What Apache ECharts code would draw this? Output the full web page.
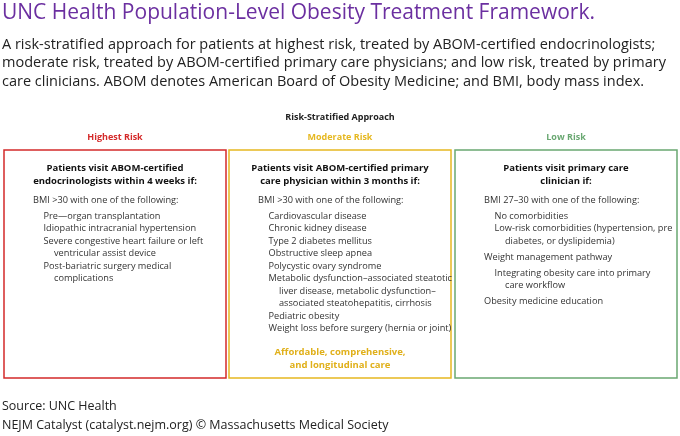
<!DOCTYPE html>
<html lang="en" style="height: 100%">
<head>
  <meta charset="utf-8">
</head>
<body style="height: 100%; margin: 0; background: #fff">
  <div id="container" style="height: 100%"></div>
  <script type="text/javascript" src="https://fastly.jsdelivr.net/npm/echarts@6.0.0/dist/echarts.min.js"></script>
  <script type="text/javascript">
var dom = document.getElementById('container');
var myChart = echarts.init(dom, null, { renderer: 'canvas' });

var titleText = 'UNC Health Population-Level Obesity Treatment Framework.';
var subtitleLines = [
  'A risk-stratified approach for patients at highest risk, treated by ABOM-certified endocrinologists;',
  'moderate risk, treated by ABOM-certified primary care physicians; and low risk, treated by primary',
  'care clinicians. ABOM denotes American Board of Obesity Medicine; and BMI, body mass index.'
];
var sourceLines = ['Source: UNC Health', 'NEJM Catalyst (catalyst.nejm.org) \u00a9 Massachusetts Medical Society'];
var approachLabel = 'Risk-Stratified Approach';

var riskNames = ['Highest Risk', 'Moderate Risk', 'Low Risk'];
var riskColors = ['#d42a2a', '#e6b820', '#6aa872'];
var headers = [
  ['Patients visit ABOM-certified', 'endocrinologists within 4 weeks if:'],
  ['Patients visit ABOM-certified primary', 'care physician within 3 months if:'],
  ['Patients visit primary care', 'clinician if:']
];
// [indent level, text]
var items1 = [
  [0, 'BMI >30 with one of the following:'],
  [1, 'Pre\u2014organ transplantation'],
  [1, 'Idiopathic intracranial hypertension'],
  [1, 'Severe congestive heart failure or left'],
  [2, 'ventricular assist device'],
  [1, 'Post-bariatric surgery medical'],
  [2, 'complications']
];
var items2 = [
  [0, 'BMI >30 with one of the following:'],
  [1, 'Cardiovascular disease'],
  [1, 'Chronic kidney disease'],
  [1, 'Type 2 diabetes mellitus'],
  [1, 'Obstructive sleep apnea'],
  [1, 'Polycystic ovary syndrome'],
  [1, 'Metabolic dysfunction\u2013associated steatotic'],
  [2, 'liver disease, metabolic dysfunction\u2013'],
  [2, 'associated steatohepatitis, cirrhosis'],
  [1, 'Pediatric obesity'],
  [1, 'Weight loss before surgery (hernia or joint)']
];
var items3 = [
  [0, 'BMI 27\u201330 with one of the following:'],
  [1, 'No comorbidities'],
  [1, 'Low-risk comorbidities (hypertension, pre'],
  [2, 'diabetes, or dyslipidemia)'],
  [0, 'Weight management pathway'],
  [1, 'Integrating obesity care into primary'],
  [2, 'care workflow'],
  [0, 'Obesity medicine education']
];
var footerMid = ['Affordable, comprehensive,', 'and longitudinal care'];

var FONT = '"Open Sans", "Noto Sans", sans-serif';
var boxX = [4, 229, 455];
var boxW = 222;
var g = [];

g.push({ type: 'text', left: 2, top: 3, style: { text: titleText, fill: '#6b2fa0', font: '21px ' + FONT } });
subtitleLines.forEach(function (s, i) {
  g.push({ type: 'text', left: 2, top: 37 + i * 18.5, style: { text: s, fill: '#222', font: '14.5px ' + FONT } });
});
sourceLines.forEach(function (s, i) {
  g.push({ type: 'text', left: 2, top: 400 + i * 19, style: { text: s, fill: '#222', font: '12.5px ' + FONT } });
});
g.push({ type: 'text', x: 340, y: 117, style: { text: approachLabel, fill: '#222', font: 'bold 9px ' + FONT, align: 'center', verticalAlign: 'middle' } });

[items1, items2, items3].forEach(function (items, b) {
  var x0 = boxX[b];
  var cx = x0 + boxW / 2;
  g.push({ type: 'text', x: cx, y: 137, style: { text: riskNames[b], fill: riskColors[b], font: 'bold 9px ' + FONT, align: 'center', verticalAlign: 'middle' } });
  g.push({ type: 'rect', shape: { x: x0, y: 150, width: boxW, height: 228 }, style: { fill: '#fff', stroke: riskColors[b], lineWidth: 1.5 } });
  headers[b].forEach(function (h, i) {
    g.push({ type: 'text', x: cx, y: 168 + i * 13, style: { text: h, fill: '#111', font: 'bold 9.5px ' + FONT, align: 'center', verticalAlign: 'middle' } });
  });
  var y = 200;
  items.forEach(function (it, i) {
    if (i > 0) y += (it[0] === 0 || items[i - 1][0] === 0) ? 16 : 12.5;
    g.push({ type: 'text', x: x0 + 29 + it[0] * 10.5, y: y, style: { text: it[1], fill: '#333', font: '9.2px ' + FONT, verticalAlign: 'middle' } });
  });
});
footerMid.forEach(function (s, i) {
  g.push({ type: 'text', x: boxX[1] + boxW / 2, y: 352 + i * 13, style: { text: s, fill: '#e0b01a', font: 'bold 9.5px ' + FONT, align: 'center', verticalAlign: 'middle' } });
});

var option = { backgroundColor: '#fff', graphic: g };
myChart.setOption(option);
window.addEventListener('resize', myChart.resize);
  </script>
</body>
</html>
